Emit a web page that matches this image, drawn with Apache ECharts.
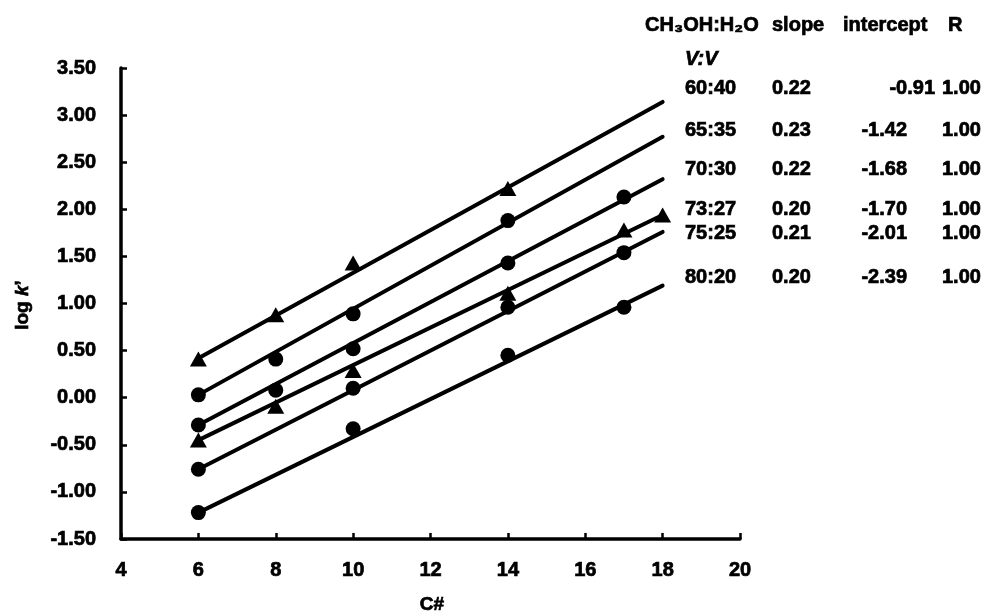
<!DOCTYPE html>
<html>
<head>
<meta charset="utf-8">
<script src="https://cdn.jsdelivr.net/npm/echarts@6/dist/echarts.min.js"></script>
<style>
  html, body { margin: 0; padding: 0; background: #fff; }
  #chart { width: 989px; height: 615px; }
</style>
</head>
<body>
<div id="chart"></div>
<script>
// Mobile phase compositions (CH3OH:H2O, V:V)
const ratios = ['60:40', '65:35', '70:30', '73:27', '75:25', '80:20'];
const slopes = ['0.22', '0.23', '0.22', '0.20', '0.21', '0.20'];
const intercepts = ['-0.91', '-1.42', '-1.68', '-1.70', '-2.01', '-2.39'];
const rValues = ['1.00', '1.00', '1.00', '1.00', '1.00', '1.00'];

// Measured log k' against carbon number for each composition
const c6040 = [6, 8, 10, 14];
const k6040 = [0.41, 0.88, 1.43, 2.22];
const c6535 = [6, 8, 10, 14];
const k6535 = [0.03, 0.41, 0.89, 1.88];
const c7030 = [6, 8, 10, 14, 17];
const k7030 = [-0.29, 0.08, 0.52, 1.43, 2.13];
const c7327 = [6, 8, 10, 14, 17, 18];
const k7327 = [-0.45, -0.09, 0.29, 1.11, 1.78, 1.94];
const c7525 = [6, 10, 14, 17];
const k7525 = [-0.76, 0.10, 0.96, 1.54];
const c8020 = [6, 10, 14, 17];
const k8020 = [-1.22, -0.33, 0.45, 0.96];

// Fitted lines, drawn from C6 to C18
const fitFromC = 6;
const fitToC = 18;
const fitStart = [0.42, 0.03, -0.29, -0.45, -0.76, -1.22];
const fitEnd = [3.14, 2.77, 2.32, 1.94, 1.76, 1.19];

// Axis ticks
const yTicks = [-1.5, -1.0, -0.5, 0.0, 0.5, 1.0, 1.5, 2.0, 2.5, 3.0, 3.5];
const xTicks = [4, 6, 8, 10, 12, 14, 16, 18, 20];

const measured = [
  { c: c6040, k: k6040, symbol: 'triangle' },
  { c: c6535, k: k6535, symbol: 'circle' },
  { c: c7030, k: k7030, symbol: 'circle' },
  { c: c7327, k: k7327, symbol: 'triangle' },
  { c: c7525, k: k7525, symbol: 'circle' },
  { c: c8020, k: k8020, symbol: 'circle' }
];

const FONT = '"Liberation Sans", Arial, "DejaVu Sans", sans-serif';
const INK = { fill: '#000', stroke: '#000', lineWidth: 0.7 };
const chart = echarts.init(document.getElementById('chart'), null, { renderer: 'canvas' });

const series = [];
ratios.forEach(function (name, i) {
  series.push({
    name: name + ' fit',
    type: 'line',
    data: [[fitFromC, fitStart[i]], [fitToC, fitEnd[i]]],
    showSymbol: false,
    lineStyle: { color: '#000', width: 4, cap: 'round' },
    silent: true,
    z: 2
  });
  const m = measured[i];
  series.push({
    name: name,
    type: 'scatter',
    data: m.c.map(function (c, j) { return [c, m.k[j]]; }),
    symbol: m.symbol,
    symbolSize: m.symbol === 'triangle' ? [17, 15] : 15,
    itemStyle: { color: '#000', opacity: 1 },
    z: 3
  });
});

function txt(x, y, text, font, align) {
  return {
    type: 'text', x: x, y: y,
    style: Object.assign({ text: text, font: font, textAlign: align || 'left', textVerticalAlign: 'middle' }, INK)
  };
}

// Table of regression results
const graphic = [];
const headFont = 'bold 20px ' + FONT;
graphic.push(txt(645, 25, 'CH\u2083OH:H\u2082O', headFont));
graphic.push(txt(772, 25, 'slope', headFont));
graphic.push(txt(843, 25, 'intercept', headFont));
graphic.push(txt(948, 25, 'R', headFont));
graphic.push(txt(685, 59, 'V:V', 'italic bold 20px ' + FONT));

const rowY = [88, 130, 169, 209, 233, 277];
const interceptRight = [935, 907, 907, 907, 907, 907];
const cellFont = 'bold 20px ' + FONT;
ratios.forEach(function (r, i) {
  graphic.push(txt(685, rowY[i], r, cellFont));
  graphic.push(txt(772, rowY[i], slopes[i], cellFont));
  graphic.push(txt(interceptRight[i], rowY[i], intercepts[i], cellFont, 'right'));
  graphic.push(txt(942, rowY[i], rValues[i], cellFont));
});

// Axis titles
graphic.push({
  type: 'text', x: 23, y: 305, rotation: Math.PI / 2,
  style: {
    text: '{a|log }{b|k}{a|\u2019}',
    fill: '#000', textAlign: 'center', textVerticalAlign: 'middle',
    rich: {
      a: { font: 'bold 19px ' + FONT, fill: '#000', stroke: '#000', lineWidth: 0.7 },
      b: { font: 'italic bold 19px ' + FONT, fill: '#000', stroke: '#000', lineWidth: 0.7 }
    }
  }
});
graphic.push(txt(432, 605, 'C#', 'bold 19px ' + FONT, 'center'));

const tickLabel = {
  color: '#000', fontFamily: FONT, fontWeight: 'bold', fontSize: 20,
  textBorderColor: '#000', textBorderWidth: 0.7
};

chart.setOption({
  animation: false,
  backgroundColor: '#fff',
  grid: { left: 121, right: 249, top: 68, bottom: 76, containLabel: false },
  xAxis: {
    type: 'value',
    min: xTicks[0], max: xTicks[xTicks.length - 1], interval: 2,
    axisLine: { show: true, onZero: false, lineStyle: { color: '#000', width: 3.5 } },
    axisTick: { show: true, inside: true, length: 6, lineStyle: { color: '#000', width: 2.5 } },
    splitLine: { show: false },
    axisLabel: Object.assign({ margin: 21 }, tickLabel)
  },
  yAxis: {
    type: 'value',
    min: yTicks[0], max: yTicks[yTicks.length - 1], interval: 0.5,
    axisLine: { show: true, onZero: false, lineStyle: { color: '#000', width: 3.5 } },
    axisTick: { show: true, inside: true, length: 6, lineStyle: { color: '#000', width: 2.5 } },
    splitLine: { show: false },
    axisLabel: Object.assign({
      margin: 25,
      formatter: function (v) { return v.toFixed(2); }
    }, tickLabel)
  },
  graphic: graphic,
  series: series
});
</script>
</body>
</html>
